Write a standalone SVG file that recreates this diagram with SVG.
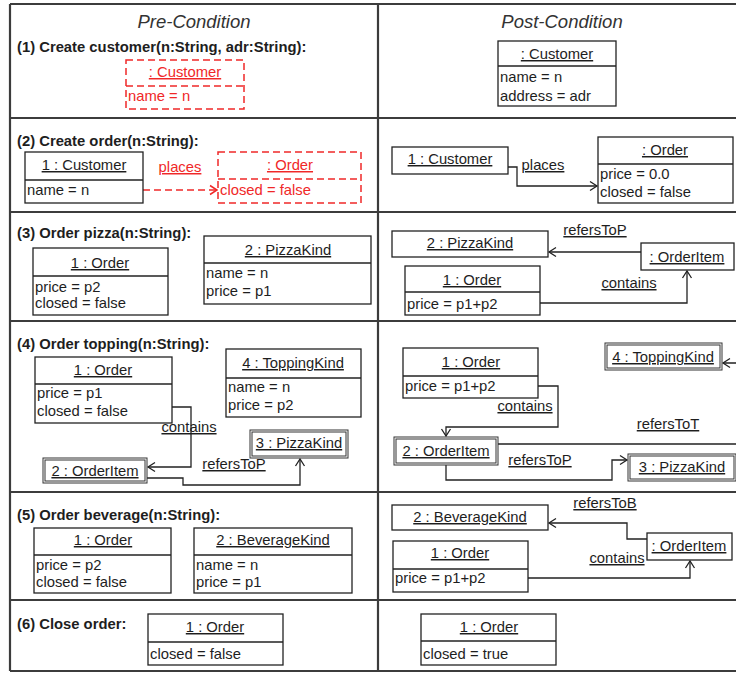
<svg xmlns="http://www.w3.org/2000/svg" width="736" height="673" viewBox="0 0 736 673">
<style>
text{font-family:"Liberation Sans",Arial,sans-serif;font-size:14.8px;fill:#1e1e1e}
.hd{font-style:italic;font-size:18.5px;text-anchor:middle;fill:#333}
.ti{font-weight:bold}
.nm{text-anchor:middle;text-decoration:underline}
.lb{text-anchor:middle;text-decoration:underline}
.red{fill:#f02828}
.box{fill:#fff;stroke:#222;stroke-width:1.3}
.db{fill:#fff;stroke:#333;stroke-width:1}
.rbox{fill:#fff;stroke:#f02828;stroke-width:1.5;stroke-dasharray:7 4}
.dv{stroke:#222;stroke-width:1.3}
.rdv{stroke:#f02828;stroke-width:1.5;stroke-dasharray:7 4}
.grid{stroke:#3c3c3c;stroke-width:2.2;fill:none}
.c{fill:none;stroke:#222;stroke-width:1.3}
.rc{fill:none;stroke:#f02828;stroke-width:1.5;stroke-dasharray:7 4}
</style>
<defs>
<marker id="ar" markerUnits="userSpaceOnUse" markerWidth="12" markerHeight="12" refX="10" refY="6" orient="auto"><path d="M3,1.5 L10,6 L3,10.5" fill="none" stroke="#222" stroke-width="1.3"/></marker>
<marker id="rar" markerUnits="userSpaceOnUse" markerWidth="12" markerHeight="12" refX="10" refY="6" orient="auto"><path d="M3,1.5 L10,6 L3,10.5" fill="none" stroke="#f02828" stroke-width="1.5"/></marker>
</defs>
<rect width="736" height="673" fill="#fff"/>
<g id="table">
<path class="grid" d="M10,4 H736 M10,118 H736 M10,212 H736 M10,321 H736 M10,492 H736 M10,600 H736 M10,671 H736 M10,4 V671 M378,4 V671"/>
<text class="hd" x="194" y="28">Pre-Condition</text>
<text class="hd" x="562" y="28">Post-Condition</text>
<text class="ti" x="17" y="52">(1) Create customer(n:String, adr:String):</text>
<text class="ti" x="17" y="146">(2) Create order(n:String):</text>
<text class="ti" x="17" y="238">(3) Order pizza(n:String):</text>
<text class="ti" x="17" y="349">(4) Order topping(n:String):</text>
<text class="ti" x="17" y="520">(5) Order beverage(n:String):</text>
<text class="ti" x="17" y="629">(6) Close order:</text>
</g>
<g id="connectors">
<path class="rc" d="M143,190 H217" marker-end="url(#rar)"/>
<text class="lb red" x="180" y="172">places</text>
<path class="c" d="M508,167 H517 V186 H597" marker-end="url(#ar)"/>
<text class="lb" x="543" y="170">places</text>
<path class="c" d="M641,252 H549" marker-end="url(#ar)"/>
<text class="lb" x="595" y="235">refersToP</text>
<path class="c" d="M540,303 H687 V271" marker-end="url(#ar)"/>
<text class="lb" x="629" y="288">contains</text>
<path class="c" d="M172,407 H191 V467 H148" marker-end="url(#ar)"/>
<text class="lb" x="189" y="432">contains</text>
<path class="c" d="M147,478 H183 V485 H300 V459" marker-end="url(#ar)"/>
<text class="lb" x="234" y="469">refersToP</text>
<path class="c" d="M538,386 H558 V427 H446 V436" marker-end="url(#ar)"/>
<text class="lb" x="525" y="411">contains</text>
<path class="c" d="M498,444 H745 V363 H723" marker-end="url(#ar)"/>
<text class="lb" x="668" y="429">refersToT</text>
<path class="c" d="M446,465 V480 H612 V460 H627" marker-end="url(#ar)"/>
<text class="lb" x="540" y="465">refersToP</text>
<path class="c" d="M647,539 H627 V523 H549" marker-end="url(#ar)"/>
<text class="lb" x="605" y="508">refersToB</text>
<path class="c" d="M528,578 H690 V561" marker-end="url(#ar)"/>
<text class="lb" x="617" y="563">contains</text>
</g>
<g id="pre1-customer">
<rect class="rbox" x="126" y="60" width="118" height="49"/>
<line class="rdv" x1="126" y1="86" x2="244" y2="86"/>
<text class="nm red" x="185" y="77">: Customer</text>
<text class="red" x="128" y="101">name = n</text>
</g>
<g id="post1-customer">
<rect class="box" x="498" y="41" width="118" height="65"/>
<line class="dv" x1="498" y1="66" x2="616" y2="66"/>
<text class="nm" x="557" y="59">: Customer</text>
<text x="500" y="82">name = n</text>
<text x="500" y="101">address = adr</text>
</g>
<g id="pre2-customer">
<rect class="box" x="25" y="152" width="118" height="51"/>
<line class="dv" x1="25" y1="180" x2="143" y2="180"/>
<text class="nm" x="84" y="170">1 : Customer</text>
<text x="27" y="195">name = n</text>
</g>
<g id="pre2-order">
<rect class="rbox" x="218" y="152" width="143" height="51"/>
<line class="rdv" x1="218" y1="179" x2="361" y2="179"/>
<text class="nm red" x="290" y="170">: Order</text>
<text class="red" x="220" y="195">closed = false</text>
</g>
<g id="post2-customer">
<rect class="box" x="392" y="147" width="116" height="27"/>
<text class="nm" x="450" y="164">1 : Customer</text>
</g>
<g id="post2-order">
<rect class="box" x="598" y="137" width="135" height="66"/>
<line class="dv" x1="598" y1="164" x2="733" y2="164"/>
<text class="nm" x="665" y="155">: Order</text>
<text x="600" y="179">price = 0.0</text>
<text x="600" y="197">closed = false</text>
</g>
<g id="pre3-order">
<rect class="box" x="33" y="248" width="135" height="67"/>
<line class="dv" x1="33" y1="276" x2="168" y2="276"/>
<text class="nm" x="100" y="268">1 : Order</text>
<text x="35" y="292">price = p2</text>
<text x="35" y="308">closed = false</text>
</g>
<g id="pre3-pizzakind">
<rect class="box" x="204" y="236" width="167" height="68"/>
<line class="dv" x1="204" y1="263" x2="371" y2="263"/>
<text class="nm" x="288" y="255">2 : PizzaKind</text>
<text x="206" y="278">name = n</text>
<text x="206" y="296">price = p1</text>
</g>
<g id="post3-pizzakind">
<rect class="box" x="392" y="231" width="156" height="26"/>
<text class="nm" x="470" y="248">2 : PizzaKind</text>
</g>
<g id="post3-orderitem">
<rect class="box" x="641" y="243" width="93" height="27"/>
<text class="nm" x="687" y="262">: OrderItem</text>
</g>
<g id="post3-order">
<rect class="box" x="405" y="266" width="135" height="49"/>
<line class="dv" x1="405" y1="292" x2="540" y2="292"/>
<text class="nm" x="472" y="285">1 : Order</text>
<text x="407" y="309">price = p1+p2</text>
</g>
<g id="pre4-order">
<rect class="box" x="35" y="357" width="137" height="66"/>
<line class="dv" x1="35" y1="384" x2="172" y2="384"/>
<text class="nm" x="103" y="375">1 : Order</text>
<text x="37" y="398">price = p1</text>
<text x="37" y="416">closed = false</text>
</g>
<g id="pre4-toppingkind">
<rect class="box" x="226" y="349" width="135" height="68"/>
<line class="dv" x1="226" y1="378" x2="361" y2="378"/>
<text class="nm" x="293" y="368">4 : ToppingKind</text>
<text x="228" y="392">name = n</text>
<text x="228" y="410">price = p2</text>
</g>
<g id="pre4-pizzakind">
<rect class="db" x="250" y="430" width="98" height="28"/>
<rect class="db" x="252" y="432" width="94" height="24"/>
<text class="nm" x="299" y="448">3 : PizzaKind</text>
</g>
<g id="pre4-orderitem">
<rect class="db" x="43" y="458" width="104" height="25"/>
<rect class="db" x="45" y="460" width="100" height="21"/>
<text class="nm" x="95" y="476">2 : OrderItem</text>
</g>
<g id="post4-order">
<rect class="box" x="403" y="348" width="135" height="50"/>
<line class="dv" x1="403" y1="376" x2="538" y2="376"/>
<text class="nm" x="471" y="367">1 : Order</text>
<text x="405" y="391">price = p1+p2</text>
</g>
<g id="post4-toppingkind">
<rect class="db" x="605" y="343" width="117" height="27"/>
<rect class="db" x="607" y="345" width="113" height="23"/>
<text class="nm" x="663" y="362">4 : ToppingKind</text>
</g>
<g id="post4-orderitem">
<rect class="db" x="394" y="437" width="104" height="28"/>
<rect class="db" x="396" y="439" width="100" height="24"/>
<text class="nm" x="446" y="456">2 : OrderItem</text>
</g>
<g id="post4-pizzakind">
<rect class="db" x="628" y="454" width="108" height="27"/>
<rect class="db" x="630" y="456" width="104" height="23"/>
<text class="nm" x="682" y="472">3 : PizzaKind</text>
</g>
<g id="pre5-order">
<rect class="box" x="34" y="528" width="137" height="65"/>
<line class="dv" x1="34" y1="555" x2="171" y2="555"/>
<text class="nm" x="103" y="545">1 : Order</text>
<text x="36" y="570">price = p2</text>
<text x="36" y="587">closed = false</text>
</g>
<g id="pre5-beveragekind">
<rect class="box" x="194" y="528" width="158" height="65"/>
<line class="dv" x1="194" y1="555" x2="352" y2="555"/>
<text class="nm" x="273" y="545">2 : BeverageKind</text>
<text x="196" y="570">name = n</text>
<text x="196" y="587">price = p1</text>
</g>
<g id="post5-beveragekind">
<rect class="box" x="392" y="505" width="156" height="25"/>
<text class="nm" x="470" y="522">2 : BeverageKind</text>
</g>
<g id="post5-orderitem">
<rect class="box" x="647" y="533" width="85" height="27"/>
<text class="nm" x="689" y="551">: OrderItem</text>
</g>
<g id="post5-order">
<rect class="box" x="393" y="541" width="135" height="51"/>
<line class="dv" x1="393" y1="569" x2="528" y2="569"/>
<text class="nm" x="460" y="558">1 : Order</text>
<text x="395" y="583">price = p1+p2</text>
</g>
<g id="pre6-order">
<rect class="box" x="148" y="614" width="135" height="51"/>
<line class="dv" x1="148" y1="642" x2="283" y2="642"/>
<text class="nm" x="215" y="632">1 : Order</text>
<text x="150" y="659">closed = false</text>
</g>
<g id="post6-order">
<rect class="box" x="421" y="614" width="135" height="51"/>
<line class="dv" x1="421" y1="641" x2="556" y2="641"/>
<text class="nm" x="489" y="632">1 : Order</text>
<text x="423" y="659">closed = true</text>
</g>
</svg>
